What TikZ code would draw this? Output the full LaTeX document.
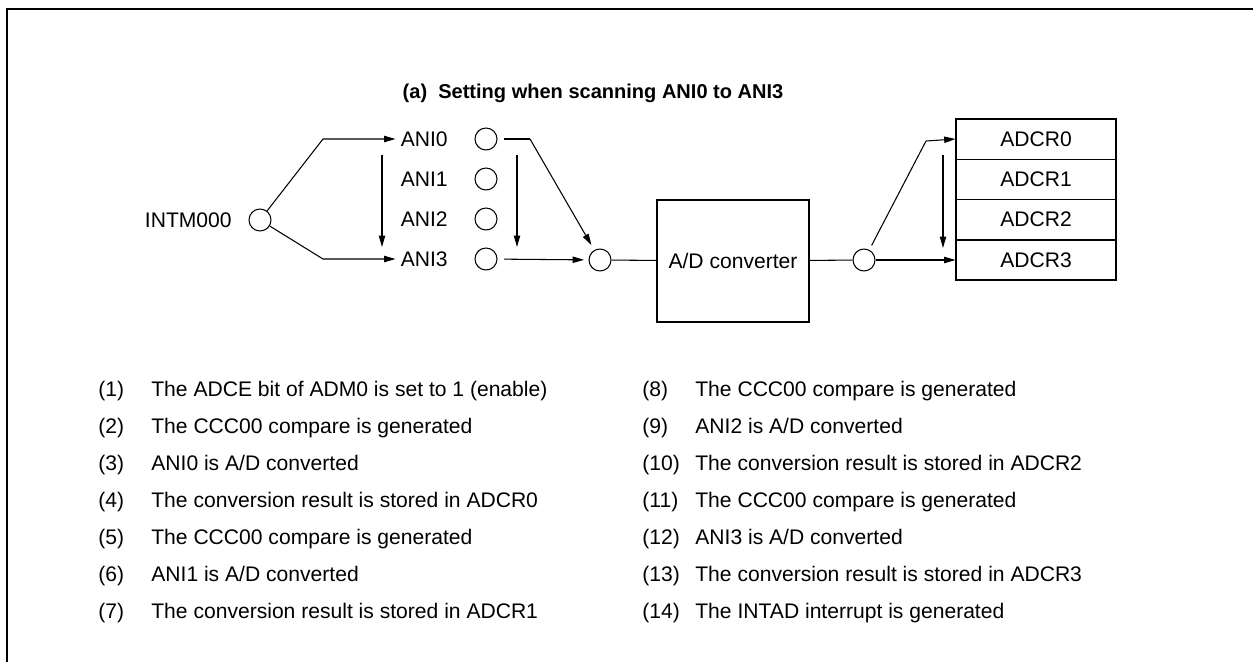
\documentclass[tikz,border=0pt]{standalone}
\usepackage{fontspec}
\setmainfont{Liberation Sans}
\usetikzlibrary{arrows.meta,positioning,calc}
\tikzset{port/.style={draw,circle,minimum size=0.44cm,inner sep=0pt,line width=0.6pt},
  lbl/.style={inner sep=0pt},
  reg/.style={draw,minimum width=3.2cm,minimum height=0.8cm,inner sep=0pt,line width=0.5pt},
  conv/.style={draw,minimum width=3.04cm,minimum height=2.44cm,inner sep=0pt,line width=1.2pt},
  wire/.style={line width=0.6pt},
  arr/.style={-{Triangle[length=6.5pt,width=3.6pt]},line width=0.6pt},
  item/.style={anchor=base west,inner sep=0pt}}

\begin{document}
\begin{tikzpicture}[x=0.02cm,y=-0.02cm,font=\fontsize{12}{14}\selectfont]
\useasboundingbox (0,0) rectangle (1253,662);
\draw[line width=1.4pt] (7,662) -- (7,9) -- (1253,9);
\node[lbl,font=\fontsize{11.4}{14}\selectfont\bfseries] (title) at (593,93) {(a)\ \ Setting when scanning ANI0 to ANI3};
% inputs
\node[port] (intm) at (260,220) {};
\node[lbl,anchor=east] (intml) at (232,220) {INTM000};
\foreach \i/\y in {0/139,1/179,2/219,3/259}{
 \node[port] (ani\i) at (486,\y) {};
 \node[lbl,anchor=east] (l\i) at (448,\y) {ANI\i};
}
\coordinate (k0) at (323,139);
\coordinate (k3) at (323,259);
\draw[arr,shorten >=2.8pt] (intm) -- (k0) -- (l0.west);
\draw[arr,shorten >=2.8pt] (intm) -- (k3) -- (l3.west);
\draw[arr] (382,155) coordinate (va) -- (382,247) coordinate (vb);
\draw[arr] (517,155) coordinate (vc) -- (517,247) coordinate (vd);
% converter
\node[port] (mux) at (600,260) {};
\node[conv] (adc) at (733,261) {A/D converter};
\node[port] (out) at (864,260) {};
\coordinate (m0) at (530,139);
\draw[wire,shorten <=3.8pt] (ani0) -- (m0);
\draw[arr,shorten >=3.2pt] (m0) -- (mux);
\draw[arr,shorten <=3.8pt,shorten >=2.5pt] (ani3) -- (mux);
\draw[wire] (mux) -- (adc);
\draw[wire] (adc) -- (out);
% result registers
\foreach \i/\y in {0/139,1/179,2/219,3/260}{
 \node[reg] (r\i) at (1036,\y) {ADCR\i};
}
\draw[line width=1.2pt] (r0.north west) rectangle (r3.south east);
\coordinate (p0) at (926,141);
\draw[wire,shorten <=2.8pt] (out) -- (p0);
\draw[arr] (p0) -- (r0.west);
\draw[arr] (out) -- (r3.west);
\draw[arr] (943,155) coordinate (vr) -- (943,248) coordinate (vs);
% sequence
\foreach \n/\t [count=\k from 0] in {1/{The ADCE bit of ADM0 is set to 1 (enable)},
  2/{The CCC00 compare is generated},3/{ANI0 is A/D converted},
  4/{The conversion result is stored in ADCR0},5/{The CCC00 compare is generated},
  6/{ANI1 is A/D converted},7/{The conversion result is stored in ADCR1}}{
 \pgfmathsetmacro{\yy}{396+37*\k}
 \node[item] (n\n) at (98,\yy) {(\n)};
 \node[item] (t\n) at (151,\yy) {\t};
}
\foreach \n/\t [count=\k from 0] in {8/{The CCC00 compare is generated},
  9/{ANI2 is A/D converted},10/{The conversion result is stored in ADCR2},
  11/{The CCC00 compare is generated},12/{ANI3 is A/D converted},
  13/{The conversion result is stored in ADCR3},14/{The INTAD interrupt is generated}}{
 \pgfmathsetmacro{\yy}{396+37*\k}
 \node[item] (n\n) at (642,\yy) {(\n)};
 \node[item] (t\n) at (695,\yy) {\t};
}
\end{tikzpicture}
\end{document}
